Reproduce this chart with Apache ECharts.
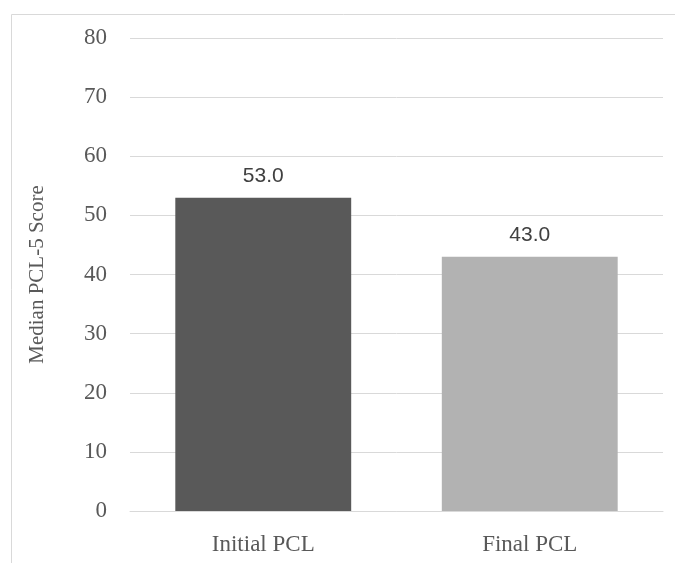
<!DOCTYPE html>
<html><head><meta charset="utf-8">
<script src="https://cdn.jsdelivr.net/npm/echarts@6/dist/echarts.min.js"></script>
<style>html,body{margin:0;padding:0;background:#fff}#c{width:675px;height:563px}</style>
</head><body><div id="c"></div>
<script>
const categories = ['Initial PCL', 'Final PCL'];
const values = [53.0, 43.0];
const barColors = ['#595959', '#b2b2b2'];
const yTicks = { min: 0, max: 80, interval: 10 };
const yName = 'Median PCL-5 Score';

const chart = echarts.init(document.getElementById('c'));
chart.setOption({
  animation: false,
  graphic: [{ type: 'rect', shape: { x: 11.5, y: 14.5, width: 700, height: 600 }, style: { fill: 'none', stroke: '#d9d9d9', lineWidth: 1 } }],
  grid: { left: 130, right: 12, top: 38, bottom: 52 },
  xAxis: {
    type: 'category', data: categories,
    axisLine: { lineStyle: { color: '#d9d9d9' } }, axisTick: { show: false },
    axisLabel: { color: '#595959', fontFamily: 'Liberation Serif', fontSize: 23, margin: 22 }
  },
  yAxis: {
    type: 'value', min: yTicks.min, max: yTicks.max, interval: yTicks.interval,
    name: yName, nameLocation: 'middle', nameGap: 82, nameRotate: 90,
    nameTextStyle: { color: '#595959', fontFamily: 'Liberation Serif', fontSize: 21 },
    axisLabel: { color: '#595959', fontFamily: 'Liberation Serif', fontSize: 23, margin: 23 },
    splitLine: { lineStyle: { color: '#d9d9d9' } }
  },
  series: [{
    type: 'bar', barWidth: '66%',
    data: values.map((v, i) => ({ value: v, itemStyle: { color: barColors[i] } })),
    label: { show: true, position: 'top', distance: 11, color: '#404040', fontFamily: 'Liberation Sans', fontSize: 21, formatter: p => p.value.toFixed(1) }
  }]
});
</script></body></html>
